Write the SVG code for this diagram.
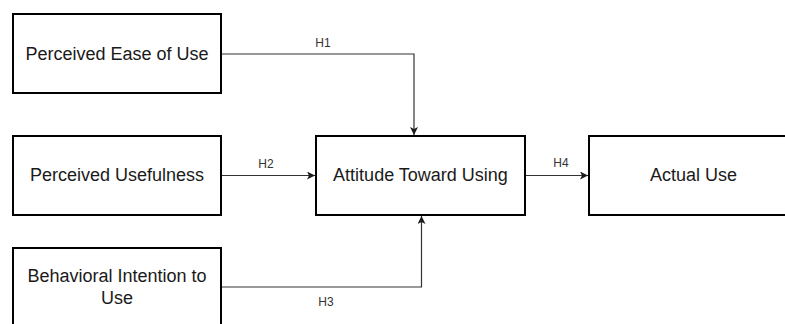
<svg xmlns="http://www.w3.org/2000/svg" width="785" height="324" viewBox="0 0 785 324">
<style>
.box{fill:#fff;stroke:#000;stroke-width:2}
.lbl{font-family:"Liberation Sans",Arial,sans-serif;font-size:18px;fill:#1a1a1a;text-anchor:middle;dominant-baseline:central}
.edge{fill:none;stroke:#333;stroke-width:1.2}
.elbl{font-family:"Liberation Sans",Arial,sans-serif;font-size:12px;fill:#333;text-anchor:middle;dominant-baseline:central}
</style>
<defs>
<marker id="arr" viewBox="0 0 10 10" refX="10" refY="5" markerWidth="8" markerHeight="8" markerUnits="userSpaceOnUse" orient="auto">
<path d="M0,0 L10,5 L0,10 L2.5,5 Z" fill="#1a1a1a"/>
</marker>
</defs>
<rect width="785" height="324" fill="#fff"/>
<g id="connectors">
<path class="edge" d="M221,54 H414 V135" marker-end="url(#arr)"/>
<path class="edge" d="M221,175.5 H315" marker-end="url(#arr)"/>
<path class="edge" d="M221,287 H421.5 V216" marker-end="url(#arr)"/>
<path class="edge" d="M525,175.5 H588" marker-end="url(#arr)"/>
<text class="elbl" x="323" y="43">H1</text>
<text class="elbl" x="266" y="164">H2</text>
<text class="elbl" x="326" y="302">H3</text>
<text class="elbl" x="561" y="163">H4</text>
</g>
<g id="peou">
<rect class="box" x="13" y="14" width="208" height="79"/>
<text class="lbl" x="117" y="54">Perceived Ease of Use</text>
</g>
<g id="pu">
<rect class="box" x="13" y="136" width="208" height="79"/>
<text class="lbl" x="117" y="175">Perceived Usefulness</text>
</g>
<g id="bi">
<rect class="box" x="13" y="248" width="208" height="79"/>
<text class="lbl" x="117" y="276">Behavioral Intention to</text>
<text class="lbl" x="117" y="298">Use</text>
</g>
<g id="atu">
<rect class="box" x="316" y="136" width="209" height="79"/>
<text class="lbl" x="420.5" y="175">Attitude Toward Using</text>
</g>
<g id="au">
<rect class="box" x="589" y="136" width="209" height="79"/>
<text class="lbl" x="693.5" y="175">Actual Use</text>
</g>
</svg>
